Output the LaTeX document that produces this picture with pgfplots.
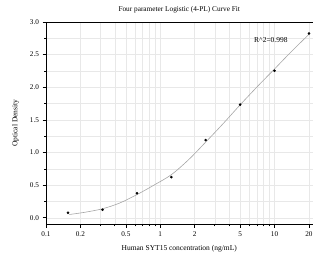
\documentclass[border=0pt]{standalone}
\usepackage{fontspec}
\setmainfont{Liberation Serif}
\usepackage{pgfplots}
\pgfplotsset{compat=1.18}
\begin{document}
\begin{tikzpicture}
\useasboundingbox (-46pt,-34.7pt) rectangle (272pt,224.3pt);
\begin{axis}[
  at={(0,0)}, anchor=south west,
  scale only axis, width=266.5pt, height=202.3pt,
  xmode=log, log basis x=10,
  xmin=0.1, xmax=21.5, ymin=-0.1, ymax=3.0,
  axis x line*=bottom, axis y line*=left,
  xtick={0.1,0.2,0.5,1,2,5,10,20},
  xticklabels={0.1,0.2,0.5,1,2,5,10,20},
  minor xtick={0.3,0.4,0.6,0.7,0.8,0.9,3,4,6,7,8,9},
  ytick={0,0.5,1,1.5,2,2.5,3},
  minor ytick={0.25,0.75,1.25,1.75,2.25,2.75},
  yticklabel style={/pgf/number format/.cd,fixed,fixed zerofill,precision=1},
  /pgf/number format/assume math mode=true,
  tick align=outside,
  major tick length=3.5pt, minor tick length=2pt,
  tick style={black, line width=0.6pt},
  axis line style={black, line width=0.9pt},
  grid=both,
  major grid style={gray!18, line width=0.4pt},
  minor grid style={gray!18, line width=0.4pt},
  tick label style={font=\fontsize{7.2}{8}\selectfont},
  label style={font=\fontsize{7.5}{9}\selectfont},
  title style={font=\fontsize{7.3}{9}\selectfont, yshift=-1pt},
  title={Four parameter Logistic (4-PL) Curve Fit},
  xlabel={Human SYT15 concentration (ng/mL)},
  ylabel={Optical Density},
  xlabel style={yshift=-2pt},
  ylabel style={yshift=4pt},
  clip=false,
]
\addplot[gray!70, line width=0.6pt, smooth] coordinates {
(0.16,0.050) (0.22,0.085) (0.3125,0.138) (0.44,0.225) (0.625,0.355) (0.88,0.50)
(1.25,0.66) (1.77,0.89) (2.5,1.16) (3.54,1.44) (5,1.73) (7.07,2.01) (10,2.28)
(14.1,2.55) (20,2.81)
};
\addplot[only marks, mark=*, mark size=1.1pt, black] coordinates {
(0.156,0.077) (0.3125,0.124) (0.625,0.376) (1.25,0.623) (2.5,1.19) (5,1.735) (10,2.253) (20,2.824)
};
\node[font=\fontsize{7.5}{9}\selectfont] at (axis cs:9.3,2.73) {R\^{}2=0.998};
\draw[black, line width=0.9pt] (rel axis cs:0,1) -- (rel axis cs:1,1);
\end{axis}
\end{tikzpicture}
\end{document}
